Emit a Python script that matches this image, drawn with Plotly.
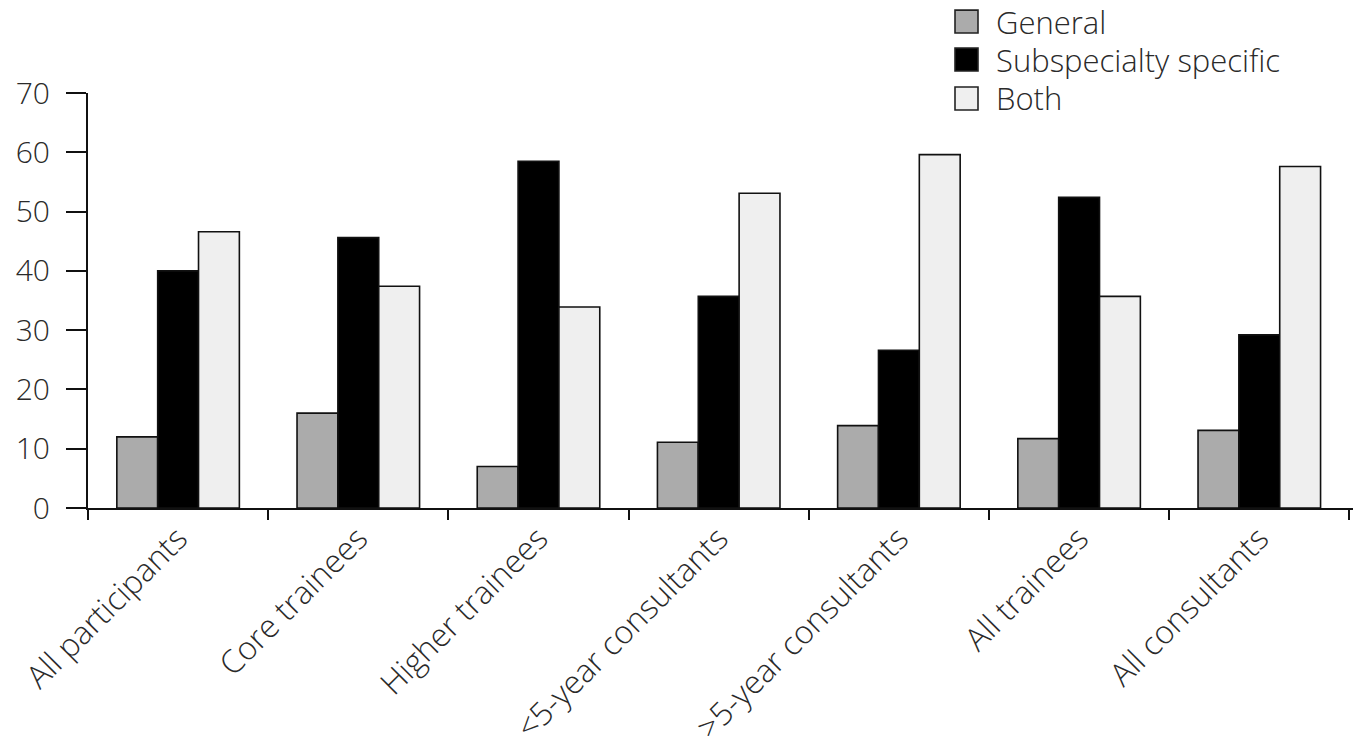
import plotly.graph_objects as go

categories = ["All participants", "Core trainees", "Higher trainees",
              "<5-year consultants", ">5-year consultants", "All trainees",
              "All consultants"]
series_names = ["General", "Subspecialty specific", "Both"]
general = [12.0, 16.0, 7.0, 11.1, 13.9, 11.7, 13.1]
subspecialty = [40.0, 45.6, 58.5, 35.7, 26.6, 52.4, 29.2]
both = [46.6, 37.4, 33.9, 53.1, 59.6, 35.7, 57.6]
y_ticks = [0, 10, 20, 30, 40, 50, 60, 70]

colors = ["#ababab", "#000000", "#efefef"]
values = [general, subspecialty, both]

FONT = "Open Sans"
TXT = "#2a2a2a"

fig = go.Figure()
for name, vals, col in zip(series_names, values, colors):
    fig.add_trace(go.Bar(
        x=categories, y=vals, name=name, showlegend=False,
        marker=dict(color=col, line=dict(color="#111111", width=1.6)),
    ))

# page body has an 8px margin; layout below is in screen pixels
OFF = 8
W, H = 1361, 736
ml, mr, mt, mb = 88 - OFF, 16, 93 - OFF, 736 - (508.5 - OFF)
pw, ph = W - ml - mr, H - mt - mb

def px_x(p):
    return (p - OFF - ml) / pw

def px_y(p):
    return (H - mb - (p - OFF)) / ph

shapes = []
annotations = []
sw_top = [10, 48, 87]
for i, (name, col) in enumerate(zip(series_names, colors)):
    t = sw_top[i]
    shapes.append(dict(type="rect", xref="paper", yref="paper",
                       x0=px_x(955), x1=px_x(978), y0=px_y(t + 23), y1=px_y(t),
                       fillcolor=col, line=dict(color="#222222", width=1.6)))
    annotations.append(dict(xref="paper", yref="paper", x=px_x(994), y=px_y(t + 11.5),
                            text=name, showarrow=False, xanchor="left", yanchor="middle",
                            font=dict(family=FONT, size=31, color=TXT, weight=300)))

fig.update_layout(
    width=W, height=H,
    margin=dict(l=ml, r=mr, t=mt, b=mb, autoexpand=False),
    paper_bgcolor="white", plot_bgcolor="white",
    barmode="group", bargap=0.32, bargroupgap=0,
    shapes=shapes, annotations=annotations,
    font=dict(family=FONT, color=TXT),
)
fig.update_xaxes(
    showline=True, linecolor="#111111", linewidth=2.2,
    ticks="outside", tickson="boundaries", ticklen=10, tickwidth=2, tickcolor="#111111",
    tickangle=-45, tickfont=dict(family=FONT, size=32, color=TXT, weight=300),
    ticklabelstandoff=-3,
    showgrid=False, range=[-0.5, 6.52], automargin=False,
)
fig.update_yaxes(
    range=[0, 70], tickvals=y_ticks,
    showline=True, linecolor="#111111", linewidth=2.2,
    ticks="outside", ticklen=20, tickwidth=2, tickcolor="#111111",
    tickfont=dict(family=FONT, size=30, color=TXT, weight=300),
    ticklabelstandoff=10,
    showgrid=False, zeroline=False, automargin=False,
)

fig.write_html("out.html")
